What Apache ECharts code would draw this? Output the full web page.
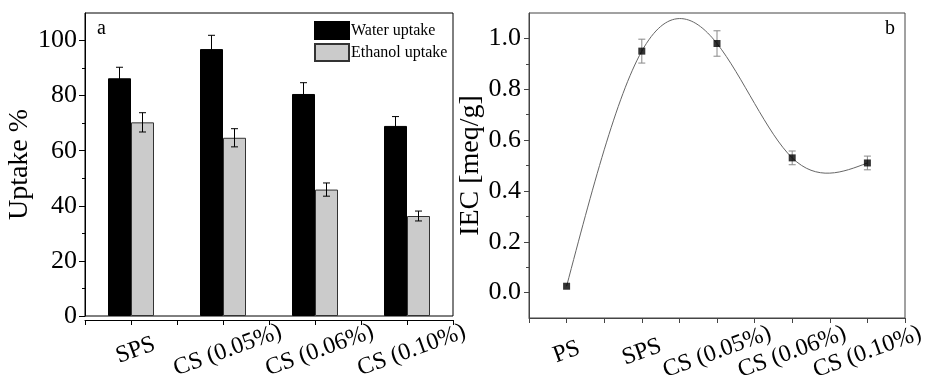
<!DOCTYPE html>
<html>
<head>
<meta charset="utf-8">
<script src="https://cdn.jsdelivr.net/npm/echarts@6/dist/echarts.min.js"></script>
<style>
  html, body { margin: 0; padding: 0; background: #fff; }
  #chart { width: 927px; height: 380px; }
</style>
</head>
<body>
<div id="chart"></div>
<script>
// ---- panel a: uptake ----
const uptakeCats = ['SPS', 'CS (0.05%)', 'CS (0.06%)', 'CS (0.10%)'];
const waterUptake = [86.3, 96.9, 80.6, 69.0];
const waterErr = [4.0, 5.0, 4.1, 3.4];
const ethanolUptake = [70.3, 64.7, 45.9, 36.3];
const ethanolErr = [3.5, 3.3, 2.4, 1.8];
const uptakeTicks = [0, 20, 40, 60, 80, 100];
const uptakeMinorTicks = [10, 30, 50, 70, 90];

// ---- panel b: IEC ----
const iecCats = ['PS', 'SPS', 'CS (0.05%)', 'CS (0.06%)', 'CS (0.10%)'];
const iecValues = [0.025, 0.95, 0.98, 0.53, 0.51];
const iecErr = [0, 0.047, 0.05, 0.027, 0.027];
const iecTicks = [0, 0.2, 0.4, 0.6, 0.8, 1.0];
const iecMinorTicks = [0.1, 0.3, 0.5, 0.7, 0.9];

const FONT = '"Liberation Serif", "Times New Roman", serif';
const iecX = iecCats.map((c, i) => i + 1);

// natural cubic spline second derivatives (same connection type as the original plot)
function splineM(xs, ys) {
  const n = xs.length;
  const M = new Array(n).fill(0);
  if (n < 3) return M;
  const a = [], b = [], c = [], d = [];
  for (let i = 1; i < n - 1; i++) {
    const h0 = xs[i] - xs[i - 1], h1 = xs[i + 1] - xs[i];
    a.push(h0); b.push(2 * (h0 + h1)); c.push(h1);
    d.push(6 * ((ys[i + 1] - ys[i]) / h1 - (ys[i] - ys[i - 1]) / h0));
  }
  const m = b.length;
  for (let i = 1; i < m; i++) {
    const w = a[i] / b[i - 1];
    b[i] -= w * c[i - 1];
    d[i] -= w * d[i - 1];
  }
  const s = new Array(m);
  s[m - 1] = d[m - 1] / b[m - 1];
  for (let i = m - 2; i >= 0; i--) s[i] = (d[i] - c[i] * s[i + 1]) / b[i];
  for (let i = 0; i < m; i++) M[i + 1] = s[i];
  return M;
}
const iecM = splineM(iecX, iecValues);

function renderSpline(params, api) {
  const i = params.dataIndex;
  if (i >= iecX.length - 1) return null;
  const x0 = iecX[i], x1 = iecX[i + 1];
  const y0 = iecValues[i], y1 = iecValues[i + 1];
  const h = x1 - x0;
  const d0 = (y1 - y0) / h - h * (2 * iecM[i] + iecM[i + 1]) / 6;
  const d1 = (y1 - y0) / h + h * (iecM[i] + 2 * iecM[i + 1]) / 6;
  const p0 = api.coord([x0, y0]);
  const p1 = api.coord([x0 + h / 3, y0 + d0 * h / 3]);
  const p2 = api.coord([x1 - h / 3, y1 - d1 * h / 3]);
  const p3 = api.coord([x1, y1]);
  return {
    type: 'bezierCurve',
    shape: { x1: p0[0], y1: p0[1], cpx1: p1[0], cpy1: p1[1], cpx2: p2[0], cpy2: p2[1], x2: p3[0], y2: p3[1] },
    style: { stroke: '#666', lineWidth: 1, fill: null }
  };
}

function renderErrorBar(params, api) {
  const x = api.value(0), v = api.value(1), e = api.value(2), side = api.value(3);
  if (!e) return null;
  const band = api.size([1, 0])[0];
  const dx = side === 0 ? -band / 8 : side === 1 ? band / 8 : 0;
  const top = api.coord([x, v + e]);
  const bot = api.coord([x, v - e]);
  const cx = top[0] + dx;
  const cap = 3.5;
  const style = { stroke: side === 2 ? '#888' : '#000', lineWidth: 1 };
  return {
    type: 'group',
    children: [
      { type: 'line', shape: { x1: cx, y1: top[1], x2: cx, y2: bot[1] }, style },
      { type: 'line', shape: { x1: cx - cap, y1: top[1], x2: cx + cap, y2: top[1] }, style },
      { type: 'line', shape: { x1: cx - cap, y1: bot[1], x2: cx + cap, y2: bot[1] }, style }
    ]
  };
}

const chart = echarts.init(document.getElementById('chart'));

const catLabel = (cats) => (v) => {
  const k = Math.round(v * 2) / 2;
  return Number.isInteger(k) ? cats[k - 1] : '';
};

const xLabelStyle = {
  rotate: 20, align: 'center', verticalAlign: 'middle',
  fontSize: 24, fontFamily: FONT, color: '#000'
};

const option = {
  animation: false,
  backgroundColor: '#fff',
  title: [
    { text: 'a', left: 97, top: 19, padding: 0, textStyle: { fontSize: 20, fontWeight: 'normal', fontFamily: FONT, color: '#000' } },
    { text: 'b', left: 885, top: 19, padding: 0, textStyle: { fontSize: 20, fontWeight: 'normal', fontFamily: FONT, color: '#000' } }
  ],
  legend: {
    data: ['Water uptake', 'Ethanol uptake'],
    orient: 'vertical',
    left: 314, top: 21, padding: 0,
    itemWidth: 34, itemHeight: 17, itemGap: 3,
    icon: 'rect',
    textStyle: { fontSize: 16, fontFamily: FONT, color: '#000', padding: [0, 0, 0, -3] }
  },
  grid: [
    { left: 85, top: 13, width: 368, height: 303, show: true, borderColor: '#000', borderWidth: 1, outerBoundsMode: 'none', containLabel: false },
    { left: 529, top: 13, width: 376, height: 305, show: true, borderColor: '#444', borderWidth: 1, outerBoundsMode: 'none', containLabel: false }
  ],
  xAxis: [
    {
      gridIndex: 0, type: 'value', min: 0.5, max: 4.5, interval: 0.5, offset: 4,
      axisLine: { show: true, onZero: false, lineStyle: { color: '#000', width: 1 } },
      axisTick: { show: true, length: 5, lineStyle: { color: '#000' } },
      axisLabel: Object.assign({ formatter: catLabel(uptakeCats), margin: 32, padding: [0, 0, 0, 10] }, xLabelStyle),
      splitLine: { show: false }
    },
    { gridIndex: 0, type: 'category', data: uptakeCats, show: false, boundaryGap: true },
    {
      gridIndex: 1, type: 'value', min: 0.5, max: 5.5, interval: 0.5,
      axisLine: { show: true, onZero: false, lineStyle: { color: '#444', width: 1 } },
      axisTick: { show: true, length: 5, lineStyle: { color: '#444' } },
      axisLabel: Object.assign({ formatter: catLabel(iecCats), margin: 34 }, xLabelStyle),
      splitLine: { show: false }
    }
  ],
  yAxis: [
    {
      gridIndex: 0, type: 'value', min: 0, max: 110, position: 'left',
      name: 'Uptake %', nameLocation: 'middle', nameGap: 48,
      nameTextStyle: { fontSize: 28, fontFamily: FONT, color: '#000' },
      axisLine: { show: true, onZero: false, lineStyle: { color: '#000' } },
      axisTick: { show: true, length: 6, customValues: uptakeTicks, lineStyle: { color: '#000' } },
      axisLabel: { customValues: uptakeTicks, margin: 8, fontSize: 26, fontFamily: FONT, color: '#000' },
      splitLine: { show: false }
    },
    {
      gridIndex: 0, type: 'value', min: 0, max: 110, position: 'left',
      axisLine: { show: false, onZero: false },
      axisTick: { show: true, length: 3, customValues: uptakeMinorTicks, lineStyle: { color: '#000' } },
      axisLabel: { show: false },
      splitLine: { show: false }
    },
    {
      gridIndex: 1, type: 'value', min: -0.1, max: 1.1, position: 'left',
      name: 'IEC [meq/g]', nameLocation: 'middle', nameGap: 41,
      nameTextStyle: { fontSize: 28, fontFamily: FONT, color: '#000' },
      axisLine: { show: true, onZero: false, lineStyle: { color: '#444' } },
      axisTick: { show: true, length: 5, customValues: iecTicks, lineStyle: { color: '#444' } },
      axisLabel: { customValues: iecTicks, margin: 8, fontSize: 26, fontFamily: FONT, color: '#000', formatter: (v) => v.toFixed(1) },
      splitLine: { show: false }
    },
    {
      gridIndex: 1, type: 'value', min: -0.1, max: 1.1, position: 'left',
      axisLine: { show: false, onZero: false },
      axisTick: { show: true, length: 3, customValues: iecMinorTicks, lineStyle: { color: '#444' } },
      axisLabel: { show: false },
      splitLine: { show: false }
    }
  ],
  series: [
    {
      name: 'Water uptake', type: 'bar', xAxisIndex: 1, yAxisIndex: 0,
      data: waterUptake, barGap: '0%', barCategoryGap: '50%',
      itemStyle: { color: '#000', borderColor: '#000', borderWidth: 1 }
    },
    {
      name: 'Ethanol uptake', type: 'bar', xAxisIndex: 1, yAxisIndex: 0,
      data: ethanolUptake, barGap: '0%', barCategoryGap: '50%',
      itemStyle: { color: '#cbcbcb', borderColor: '#333', borderWidth: 1 }
    },
    {
      type: 'custom', xAxisIndex: 1, yAxisIndex: 0, z: 5,
      renderItem: renderErrorBar,
      data: waterUptake.map((v, i) => [i, v, waterErr[i], 0])
        .concat(ethanolUptake.map((v, i) => [i, v, ethanolErr[i], 1]))
    },
    {
      type: 'custom', xAxisIndex: 2, yAxisIndex: 2, z: 3,
      renderItem: renderSpline,
      data: iecValues.map((v, i) => [iecX[i], v])
    },
    {
      type: 'custom', xAxisIndex: 2, yAxisIndex: 2, z: 4,
      renderItem: renderErrorBar,
      data: iecValues.map((v, i) => [iecX[i], v, iecErr[i], 2])
    },
    {
      type: 'scatter', xAxisIndex: 2, yAxisIndex: 2, z: 6,
      symbol: 'rect', symbolSize: 7,
      itemStyle: { color: '#000' },
      data: iecValues.map((v, i) => [iecX[i], v])
    }
  ]
};

chart.setOption(option);
</script>
</body>
</html>
